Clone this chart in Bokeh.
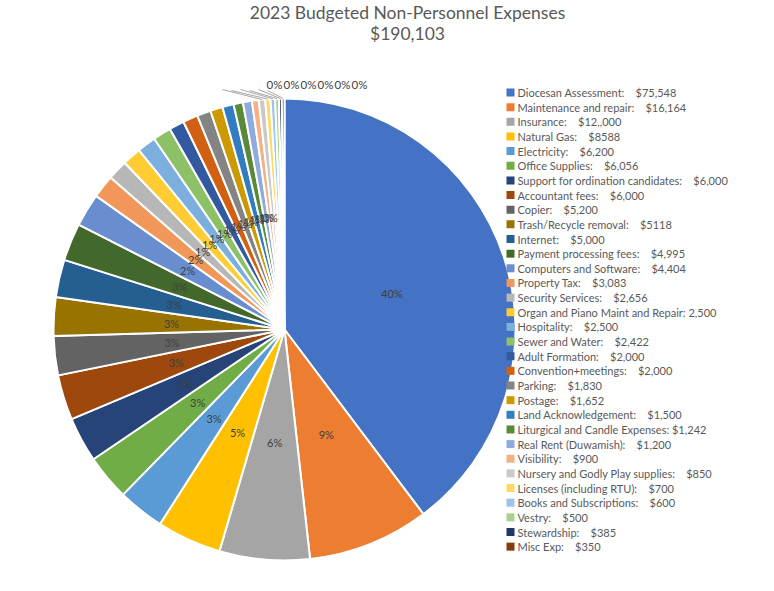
import math
import numpy as np
from bokeh.plotting import figure
from bokeh.models import ColumnDataSource, Range1d
from bokeh.core.properties import value
from bokeh.embed import file_html
from bokeh.resources import INLINE

# ---------------- data ----------------
title_line1 = "2023 Budgeted Non-Personnel Expenses"
title_line2 = "$190,103"

categories = [
    "Diocesan Assessment", "Maintenance and repair", "Insurance", "Natural Gas",
    "Electricity", "Office Supplies", "Support for ordination candidates",
    "Accountant fees", "Copier", "Trash/Recycle removal", "Internet",
    "Payment processing fees", "Computers and Software", "Property Tax",
    "Security Services", "Organ and Piano Maint and Repair", "Hospitality",
    "Sewer and Water", "Adult Formation", "Convention+meetings", "Parking",
    "Postage", "Land Acknowledgement", "Liturgical and Candle Expenses",
    "Real Rent (Duwamish)", "Visibility", "Nursery and Godly Play supplies",
    "Licenses (including RTU)", "Books and Subscriptions", "Vestry",
    "Stewardship", "Misc Exp",
]
amounts = [
    75548, 16164, 12000, 8588, 6200, 6056, 6000, 6000, 5200, 5118, 5000,
    4995, 4404, 3083, 2656, 2500, 2500, 2422, 2000, 2000, 1830, 1652, 1500,
    1242, 1200, 900, 850, 700, 600, 500, 385, 350,
]
amount_texts = [
    "$75,548", "$16,164", "$12,,000", "$8588", "$6,200", "$6,056", "$6,000",
    "$6,000", "$5,200", "$5118", "$5,000", "$4,995", "$4,404", "$3,083",
    "$2,656", "2,500", "$2,500", "$2,422", "$2,000", "$2,000", "$1,830",
    "$1,652", "$1,500", "$1,242", "$1,200", "$900", "$850", "$700", "$600",
    "$500", "$385", "$350",
]
# separator between name and amount in the legend ("wide" or "narrow")
separators = ["wide"] * 32
separators[15] = "narrow"
separators[23] = "narrow"

colors = [
    "#4472C4", "#ED7D31", "#A5A5A5", "#FFC000", "#5B9BD5", "#70AD47",
    "#264478", "#9E480E", "#636363", "#997300", "#255E91", "#43682B",
    "#698ED0", "#F1975A", "#B7B7B7", "#FFCD33", "#7CAFDD", "#8CC168",
    "#335AA1", "#D26012", "#848484", "#CC9A00", "#327DC2", "#5A8A39",
    "#8FAADC", "#F4B183", "#C9C9C9", "#FFD966", "#9DC3E6", "#A9D18E",
    "#203864", "#843C0C",
]

# ---------------- layout constants ----------------
W, H = 758, 575
FONT = "Lato"
CX, CY, R = 284, 246, 231          # pie centre / radius (px == data units)
LABEL_R = 0.49 * R
N_OUTSIDE = 6                      # last slices whose labels sit above the pie

p = figure(width=W, height=H, x_range=Range1d(0, W), y_range=Range1d(0, H),
           output_backend="svg", toolbar_location=None, min_border=0,
           x_axis_location=None, y_axis_location=None,
           outline_line_color=None, background_fill_color="white",
           border_fill_color="white")
p.grid.visible = False

vals = np.array(amounts, dtype=float)
total = vals.sum()
frac = vals / total
cum = np.concatenate([[0.0], np.cumsum(frac)])
start = math.pi / 2 - 2 * math.pi * cum[:-1]
end = math.pi / 2 - 2 * math.pi * cum[1:]
mid = (start + end) / 2
pct = [f"{int(math.floor(f * 100 + 0.5))}%" for f in frac]

src = ColumnDataSource(dict(start=start, end=end, color=colors, name=categories))
p.wedge(x=CX, y=CY, radius=R, start_angle="start", end_angle="end",
        direction="clock", fill_color="color", line_color="white",
        line_width=2, source=src)

# inside labels
n = len(amounts)
inside = list(range(n - N_OUTSIDE))
p.text(x=[CX + LABEL_R * math.cos(mid[i]) for i in inside],
       y=[CY + LABEL_R * math.sin(mid[i]) for i in inside],
       text=[pct[i] for i in inside], text_align="center",
       text_baseline="middle", text_font=value(FONT),
       text_font_size="11px", text_color="#404040")

# outside labels with leader lines
out_idx = list(range(n - N_OUTSIDE, n))
lab_x0, lab_y = 266, 491
lab_dx = 17
for k, i in enumerate(out_idx):
    rx = CX + R * math.cos(mid[i])
    ry = CY + R * math.sin(mid[i])
    p.line([rx, 222 + k * 9], [ry, 486 - (k % 2)], line_color="#A6A6A6",
           line_width=1)
p.text(x=[lab_x0 + k * lab_dx for k in range(N_OUTSIDE)],
       y=[lab_y] * N_OUTSIDE, text=[pct[i] for i in out_idx],
       text_align="left", text_baseline="middle", text_font=value(FONT),
       text_font_size="11.5px", text_color="#404040")

# title
p.text(x=[407, 407], y=[563, 542], text=[title_line1, title_line2],
       text_align="center", text_baseline="middle", text_font=value(FONT),
       text_font_size="17.5px", text_color="#595959")

# legend
gap = {"wide": ":\u00a0\u00a0\u00a0 ", "narrow": ": "}
leg_text = [c + gap[s] + t for c, s, t in zip(categories, separators, amount_texts)]
leg_y = [483 - 14.65 * i for i in range(n)]
p.rect(x=[510] * n, y=leg_y, width=8, height=8, fill_color=colors,
       line_color=None)
p.text(x=[517] * n, y=leg_y, text=leg_text, text_align="left",
       text_baseline="middle", text_font=value(FONT), text_font_size="11px",
       text_color="#595959")

open("out.html", "w").write(file_html(p, INLINE))
